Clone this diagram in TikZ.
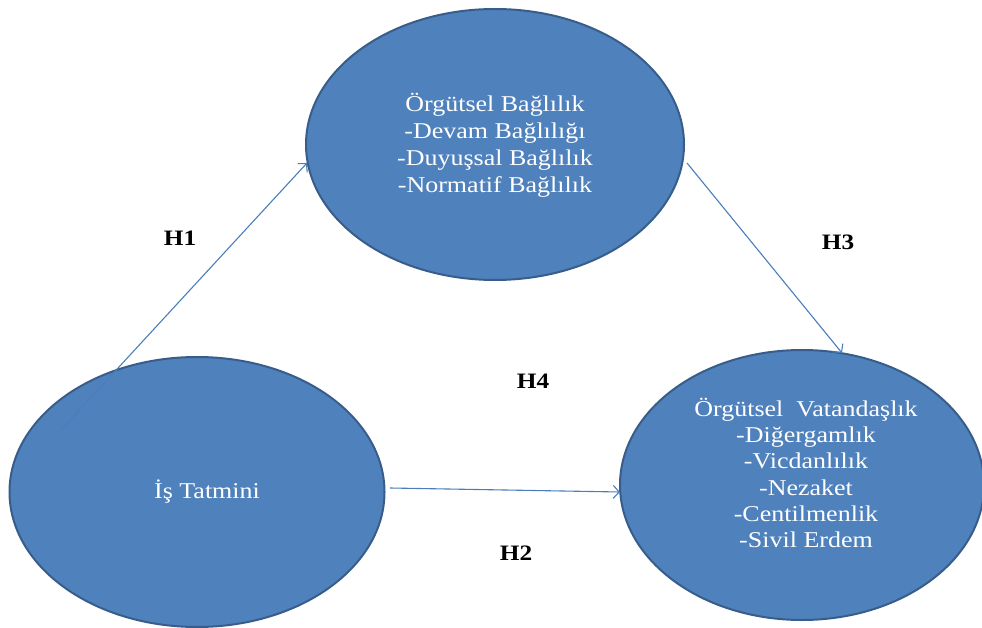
\documentclass[tikz,border=0pt]{standalone}
\usepackage{fontspec}
\setmainfont[FakeStretch=1.15]{Liberation Serif}
\usetikzlibrary{shapes.geometric,arrows.meta}
\definecolor{ellfill}{HTML}{4F81BD}
\definecolor{elldraw}{HTML}{385D8A}
\definecolor{arrcol}{HTML}{4A7EBB}
\tikzset{
  bubble/.style={ellipse, fill=ellfill, draw=elldraw, line width=2pt, inner sep=0pt},
  bubbletext/.style={text=white, align=center, inner sep=0pt, font=\fontsize{22.6}{27}\selectfont},
  hyp/.style={font=\fontsize{22}{26}\selectfont\bfseries, inner sep=0pt},
  link/.style={draw=arrcol, line width=1.1pt, -{Straight Barb[length=6pt,width=13pt]}}
}
\begin{document}
\begin{tikzpicture}[x=1pt,y=-1pt]
\useasboundingbox (0,0) rectangle (982,628);
% ellipses
\node[bubble, minimum width=378pt, minimum height=271pt] (top) at (495,144.5) {};
\node[bubble, minimum width=375pt, minimum height=270pt] (left) at (197,492) {};
\node[bubble, minimum width=364pt, minimum height=270pt] (right) at (802,485) {};
% texts
\node[bubbletext] (toptext) at (495,145) {Örgütsel Bağlılık\\-Devam Bağlılığı\\-Duyuşsal Bağlılık\\-Normatif Bağlılık};
\node[bubbletext] (lefttext) at (207,492) {İş Tatmini};
\node[bubbletext, font=\fontsize{22.6}{26.2}\selectfont] (righttext) at (806,473) {Örgütsel\ \ Vatandaşlık\\-Diğergamlık\\-Vicdanlılık\\-Nezaket\\-Centilmenlik\\-Sivil Erdem};
% connector endpoints
\coordinate (h1s) at (60,431);
\coordinate (h1e) at (307,163);
\coordinate (h3s) at (687,163);
\coordinate (h3e) at (842,353);
\coordinate (h2s) at (390,488);
\coordinate (h2e) at (620,492);
\draw[link] (h1s) -- (h1e);
\draw[link] (h3s) -- (h3e);
\draw[link] (h2s) -- (h2e);
% labels
\node[hyp] (H1) at (180,238) {H1};
\node[hyp] (H3) at (838,242) {H3};
\node[hyp] (H4) at (533,381) {H4};
\node[hyp] (H2) at (516,553) {H2};
\end{tikzpicture}
\end{document}
